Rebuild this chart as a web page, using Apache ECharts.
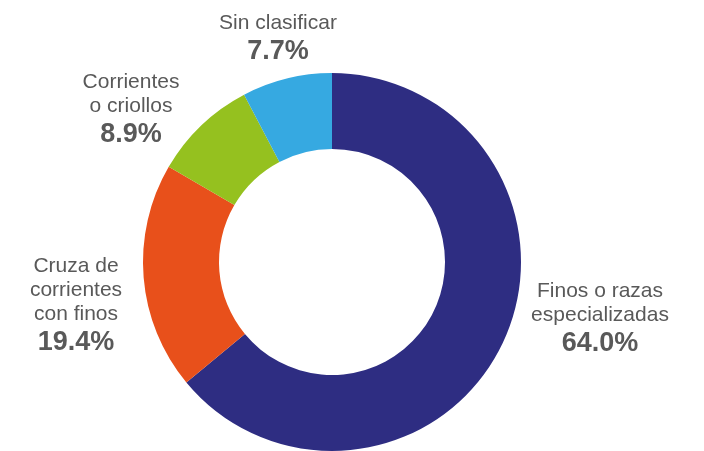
<!DOCTYPE html>
<html>
<head>
    <meta charset="utf-8">
    <title>Donut</title>
    <script src="https://cdn.jsdelivr.net/npm/echarts@6/dist/echarts.min.js"></script>
    <style>
        html, body { margin: 0; padding: 0; background: #fff; }
    </style>
</head>
<body>
    <div id="main" style="width: 704px;height:451px;"></div>
    <script type="text/javascript">
        // datos
        var categorias = ['Finos o razas\nespecializadas', 'Cruza de\ncorrientes\ncon finos', 'Corrientes\no criollos', 'Sin clasificar'];
        var porcentajes = [64.0, 19.4, 8.9, 7.7];
        var colores = ['#2E2D82', '#E8501B', '#95C11F', '#36A9E1'];

        // posicion de cada etiqueta (centro x, borde superior y)
        var etiquetaPos = [[600, 279], [76, 254], [131, 70], [278, 11]];

        var myChart = echarts.init(document.getElementById('main'));

        var datos = [];
        for (var i = 0; i < categorias.length; i++) {
            datos.push({ name: categorias[i], value: porcentajes[i], itemStyle: { color: colores[i] } });
        }

        var option = {
            animation: false,
            series: [
                {
                    type: 'pie',
                    center: [332, 262],
                    radius: [113, 189],
                    startAngle: 90,
                    clockwise: true,
                    silent: true,
                    data: datos,
                    labelLine: { show: false },
                    label: {
                        show: true,
                        overflow: 'none',
                        width: 200,
                        fontFamily: 'Liberation Sans, Arial, sans-serif',
                        formatter: function (p) {
                            var lineas = p.name.split('\n').map(function (t) { return '{n|' + t + '}'; });
                            return lineas.join('\n') + '\n{p|' + p.value.toFixed(1) + '%}';
                        },
                        rich: {
                            n: { fontSize: 21, lineHeight: 24, color: '#595959', fontFamily: 'Liberation Sans, Arial, sans-serif', align: 'center' },
                            p: { fontSize: 27, lineHeight: 34, fontWeight: 'bold', color: '#595959', fontFamily: 'Liberation Sans, Arial, sans-serif', align: 'center' }
                        }
                    },
                    labelLayout: function (params) {
                        var pos = etiquetaPos[params.dataIndex];
                        return { x: pos[0], y: pos[1], align: 'center', verticalAlign: 'top' };
                    }
                }
            ]
        };

        myChart.setOption(option);
    </script>
</body>
</html>
